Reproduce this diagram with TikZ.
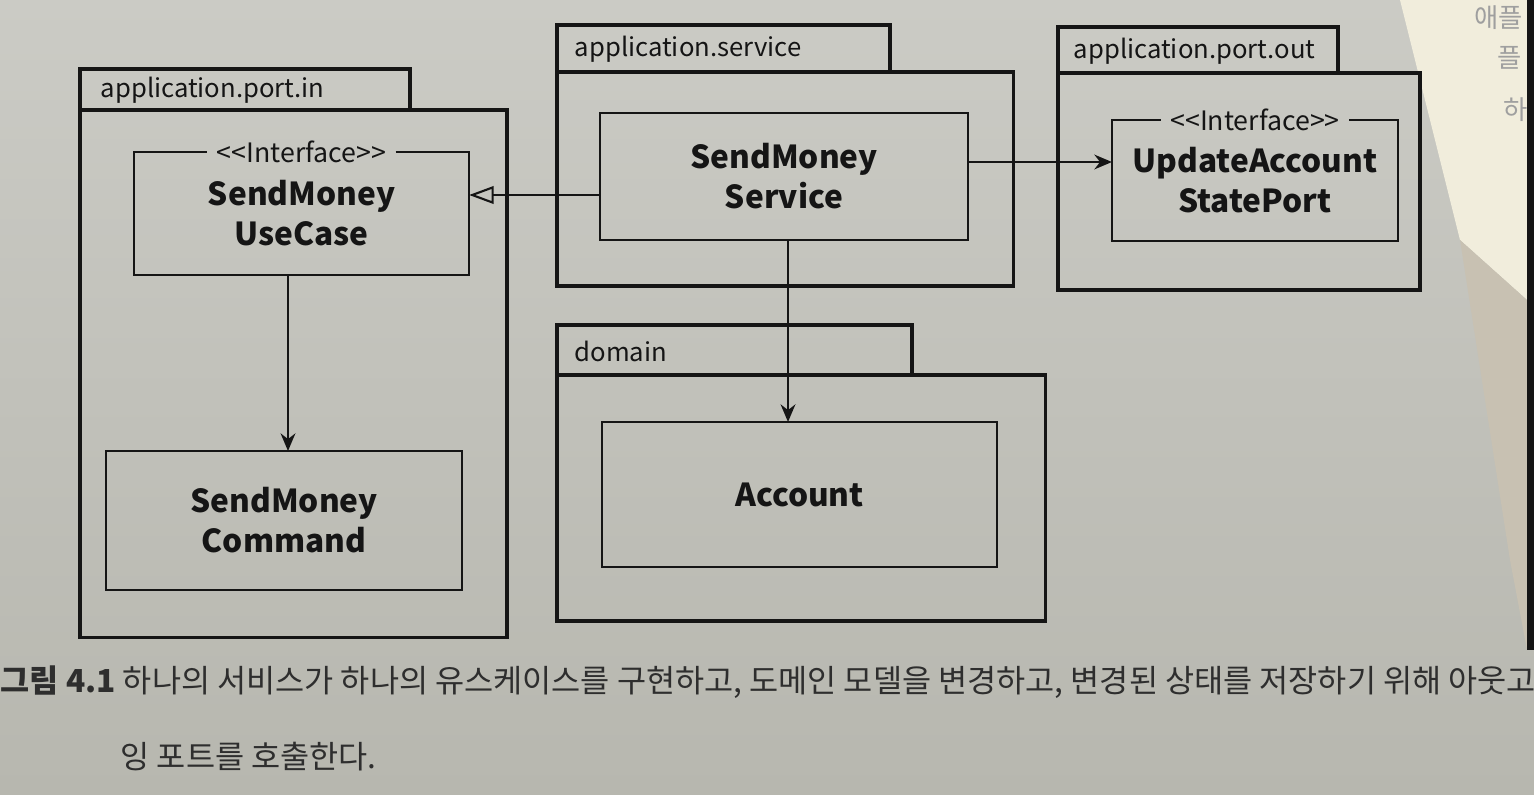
\documentclass[tikz,border=0pt]{standalone}
\usepackage{fontspec}
\setmainfont{Noto Sans CJK KR}
\newfontfamily\cjk{Noto Sans CJK KR}
\usetikzlibrary{arrows.meta}
\definecolor{bgtop}{HTML}{CBCBC5}
\definecolor{bgmid}{HTML}{AFAFA8}
\definecolor{bgbot}{HTML}{B7B7AF}
\definecolor{cream}{HTML}{F1EDDC}
\definecolor{tan}{HTML}{C8C1B2}
\definecolor{ink}{HTML}{151515}
\definecolor{capink}{HTML}{2E2E2E}
\begin{document}
\begin{tikzpicture}[x=0.01cm,y=-0.01cm,
  pkg/.style={draw=ink, line width=1pt, outer sep=0pt, inner sep=0pt},
  cls/.style={align=center, font=\fontsize{9}{11.4}\selectfont\bfseries, text=ink, inner sep=0pt, outer sep=0pt},
  clsline/.style={draw=ink, line width=0.6pt},
  pkglabel/.style={anchor=west, font=\fontsize{7.3}{8}\selectfont, text=ink, inner sep=0pt},
  stereo/.style={font=\fontsize{7.6}{8}\selectfont, text=ink, inner sep=2.5pt},
  dep/.style={draw=ink, line width=0.6pt, -{Stealth[length=5pt,width=4.2pt]}},
  realize/.style={draw=ink, line width=0.6pt, -{Triangle[open,length=7pt,width=5pt]}},
  frag/.style={anchor=west, font=\fontsize{7.5}{8}\selectfont, text=gray!75, inner sep=0pt},
]
\useasboundingbox (0,0) rectangle (1534,794);
% page background
\shade[top color=bgtop, middle color=bgmid, bottom color=bgbot] (0,0) rectangle (1534,794);
\fill[cream] (1400,0) -- (1527,0) -- (1527,300) -- (1460,240) -- cycle;
\fill[tan] (1460,240) -- (1527,300) -- (1527,650) -- (1510,560) -- cycle;
\node[frag] (f1) at (1474,18) {애플};
\node[frag] (f2) at (1497,58) {플};
\node[frag] (f3) at (1503,110) {하};
\fill[ink] (1527,0) rectangle (1534,650);

% ---------- package application.port.in
\node[pkg, anchor=north west, minimum width=3.30cm, minimum height=0.41cm] (pin-tab) at (80,69) {};
\node[pkg, anchor=north west, minimum width=4.27cm, minimum height=5.27cm] (pin) at (pin-tab.south west) {};
\node[pkglabel] (pin-lbl) at ([xshift=0.2cm,yshift=-0.01cm]pin-tab.west) {application.port.in};

% ---------- package application.service
\node[pkg, anchor=north west, minimum width=3.33cm, minimum height=0.47cm] (psvc-tab) at (557,25) {};
\node[pkg, anchor=north west, minimum width=4.56cm, minimum height=2.14cm] (psvc) at (psvc-tab.south west) {};
\node[pkglabel] (psvc-lbl) at ([xshift=0.17cm,yshift=-0.01cm]psvc-tab.west) {application.service};

% ---------- package domain
\node[pkg, anchor=north west, minimum width=3.55cm, minimum height=0.50cm] (pdom-tab) at (557,325) {};
\node[pkg, anchor=north west, minimum width=4.88cm, minimum height=2.46cm] (pdom) at (pdom-tab.south west) {};
\node[pkglabel] (pdom-lbl) at ([xshift=0.17cm,yshift=-0.01cm]pdom-tab.west) {domain};

% ---------- package application.port.out
\node[pkg, anchor=north west, minimum width=2.80cm, minimum height=0.46cm] (pout-tab) at (1058,27) {};
\node[pkg, anchor=north west, minimum width=3.62cm, minimum height=2.17cm] (pout) at (pout-tab.south west) {};
\node[pkglabel] (pout-lbl) at ([xshift=0.15cm,yshift=-0.01cm]pout-tab.west) {application.port.out};

% ---------- classes
\node[cls, minimum width=3.35cm, minimum height=1.23cm] (usecase) at (301.5,213.5) {SendMoney\\UseCase};
\node[stereo] (st1) at (usecase.north) {<\kern0pt<Interface>\kern0pt>};
\draw[clsline] (st1.east |- usecase.north) -| (usecase.south east) -| (usecase.north west) -- (st1.west |- usecase.north);

\node[cls, clsline, minimum width=3.56cm, minimum height=1.39cm] (command) at (284,520.5) {SendMoney\\Command};

\node[cls, clsline, minimum width=3.68cm, minimum height=1.27cm] (service) at (784,176.5) {SendMoney\\Service};

\node[cls, clsline, minimum width=3.95cm, minimum height=1.45cm] (account) at (799.5,494.5) {Account};

\node[cls, minimum width=2.86cm, minimum height=1.21cm] (port) at (1255,180.5) {UpdateAccount\\StatePort};
\node[stereo] (st2) at (port.north) {<\kern0pt<Interface>\kern0pt>};
\draw[clsline] (st2.east |- port.north) -| (port.south east) -| (port.north west) -- (st2.west |- port.north);

% ---------- connectors
\coordinate (ry) at (0,195);
\coordinate (ax1) at (288,0);
\coordinate (ay2) at (0,162);
\coordinate (ax3) at (788,0);
\draw[realize] (service.west |- ry) -- (usecase.east |- ry);
\draw[dep] (usecase.south -| ax1) -- (command.north -| ax1);
\draw[dep] (service.east |- ay2) -- (port.west |- ay2);
\draw[dep] (service.south -| ax3) -- (account.north -| ax3);

% ---------- caption
\node[anchor=west, font=\fontsize{9}{10}\selectfont, text=capink, inner sep=0pt] (cap1) at (0,682)
  {{\bfseries 그림 4.1} 하나의 서비스가 하나의 유스케이스를 구현하고, 도메인 모델을 변경하고, 변경된 상태를 저장하기 위해 아웃고};
\node[anchor=west, font=\fontsize{9}{10}\selectfont, text=capink, inner sep=0pt] (cap2) at (120,757)
  {잉 포트를 호출한다.};
\end{tikzpicture}
\end{document}
